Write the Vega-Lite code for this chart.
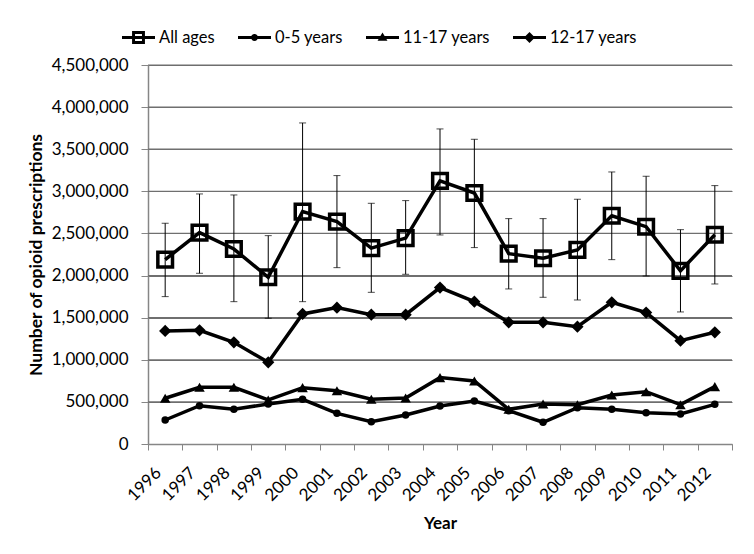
{
  "$schema": "https://vega.github.io/schema/vega-lite/v6.json",
  "width": 584,
  "height": 379,
  "autosize": "none",
  "padding": {"left": 148, "top": 65, "right": 22, "bottom": 110},
  "background": "white",
  "config": {
    "font": "Lato",
    "view": {"stroke": null},
    "axis": {"labelFont": "Lato", "titleFont": "Lato", "labelColor": "black", "titleColor": "black", "domainColor": "#868686", "tickColor": "#868686"}
  },
  "datasets": {
    "gridlines": [
      {"g": 500000}, {"g": 1000000}, {"g": 1500000}, {"g": 2000000}, {"g": 2500000},
      {"g": 3000000}, {"g": 3500000}, {"g": 4000000}, {"g": 4500000}
    ],
    "series": [
      {"year": "1996", "series": "All ages", "value": 2190000},
      {"year": "1997", "series": "All ages", "value": 2510000},
      {"year": "1998", "series": "All ages", "value": 2315000},
      {"year": "1999", "series": "All ages", "value": 1980000},
      {"year": "2000", "series": "All ages", "value": 2760000},
      {"year": "2001", "series": "All ages", "value": 2640000},
      {"year": "2002", "series": "All ages", "value": 2325000},
      {"year": "2003", "series": "All ages", "value": 2445000},
      {"year": "2004", "series": "All ages", "value": 3125000},
      {"year": "2005", "series": "All ages", "value": 2980000},
      {"year": "2006", "series": "All ages", "value": 2260000},
      {"year": "2007", "series": "All ages", "value": 2205000},
      {"year": "2008", "series": "All ages", "value": 2305000},
      {"year": "2009", "series": "All ages", "value": 2710000},
      {"year": "2010", "series": "All ages", "value": 2580000},
      {"year": "2011", "series": "All ages", "value": 2055000},
      {"year": "2012", "series": "All ages", "value": 2485000},
      {"year": "1996", "series": "0-5 years", "value": 285000},
      {"year": "1997", "series": "0-5 years", "value": 455000},
      {"year": "1998", "series": "0-5 years", "value": 412000},
      {"year": "1999", "series": "0-5 years", "value": 475000},
      {"year": "2000", "series": "0-5 years", "value": 530000},
      {"year": "2001", "series": "0-5 years", "value": 364000},
      {"year": "2002", "series": "0-5 years", "value": 265000},
      {"year": "2003", "series": "0-5 years", "value": 344000},
      {"year": "2004", "series": "0-5 years", "value": 451000},
      {"year": "2005", "series": "0-5 years", "value": 511000},
      {"year": "2006", "series": "0-5 years", "value": 396000},
      {"year": "2007", "series": "0-5 years", "value": 258000},
      {"year": "2008", "series": "0-5 years", "value": 431000},
      {"year": "2009", "series": "0-5 years", "value": 412000},
      {"year": "2010", "series": "0-5 years", "value": 372000},
      {"year": "2011", "series": "0-5 years", "value": 356000},
      {"year": "2012", "series": "0-5 years", "value": 471000},
      {"year": "1996", "series": "11-17 years", "value": 543000},
      {"year": "1997", "series": "11-17 years", "value": 673000},
      {"year": "1998", "series": "11-17 years", "value": 673000},
      {"year": "1999", "series": "11-17 years", "value": 523000},
      {"year": "2000", "series": "11-17 years", "value": 669000},
      {"year": "2001", "series": "11-17 years", "value": 633000},
      {"year": "2002", "series": "11-17 years", "value": 531000},
      {"year": "2003", "series": "11-17 years", "value": 546000},
      {"year": "2004", "series": "11-17 years", "value": 788000},
      {"year": "2005", "series": "11-17 years", "value": 748000},
      {"year": "2006", "series": "11-17 years", "value": 412000},
      {"year": "2007", "series": "11-17 years", "value": 475000},
      {"year": "2008", "series": "11-17 years", "value": 467000},
      {"year": "2009", "series": "11-17 years", "value": 582000},
      {"year": "2010", "series": "11-17 years", "value": 621000},
      {"year": "2011", "series": "11-17 years", "value": 467000},
      {"year": "2012", "series": "11-17 years", "value": 681000},
      {"year": "1996", "series": "12-17 years", "value": 1342000},
      {"year": "1997", "series": "12-17 years", "value": 1350000},
      {"year": "1998", "series": "12-17 years", "value": 1208000},
      {"year": "1999", "series": "12-17 years", "value": 970000},
      {"year": "2000", "series": "12-17 years", "value": 1544000},
      {"year": "2001", "series": "12-17 years", "value": 1619000},
      {"year": "2002", "series": "12-17 years", "value": 1536000},
      {"year": "2003", "series": "12-17 years", "value": 1536000},
      {"year": "2004", "series": "12-17 years", "value": 1857000},
      {"year": "2005", "series": "12-17 years", "value": 1690000},
      {"year": "2006", "series": "12-17 years", "value": 1445000},
      {"year": "2007", "series": "12-17 years", "value": 1445000},
      {"year": "2008", "series": "12-17 years", "value": 1393000},
      {"year": "2009", "series": "12-17 years", "value": 1683000},
      {"year": "2010", "series": "12-17 years", "value": 1560000},
      {"year": "2011", "series": "12-17 years", "value": 1227000},
      {"year": "2012", "series": "12-17 years", "value": 1326000}
    ],
    "errors": [
      {"year": "1996", "lo": 1750000, "hi": 2621000},
      {"year": "1997", "lo": 2027000, "hi": 2969000},
      {"year": "1998", "lo": 1690000, "hi": 2957000},
      {"year": "1999", "lo": 1493000, "hi": 2474000},
      {"year": "2000", "lo": 1690000, "hi": 3812000},
      {"year": "2001", "lo": 2094000, "hi": 3187000},
      {"year": "2002", "lo": 1801000, "hi": 2858000},
      {"year": "2003", "lo": 2015000, "hi": 2890000},
      {"year": "2004", "lo": 2482000, "hi": 3741000},
      {"year": "2005", "lo": 2332000, "hi": 3618000},
      {"year": "2006", "lo": 1841000, "hi": 2676000},
      {"year": "2007", "lo": 1742000, "hi": 2676000},
      {"year": "2008", "lo": 1710000, "hi": 2906000},
      {"year": "2009", "lo": 2189000, "hi": 3230000},
      {"year": "2010", "lo": 1995000, "hi": 3179000},
      {"year": "2011", "lo": 1568000, "hi": 2545000},
      {"year": "2012", "lo": 1900000, "hi": 3068000}
    ]
  },
  "layer": [
    {
      "data": {"name": "gridlines"},
      "mark": {"type": "rect", "color": "#6f6f6f", "height": 1.2, "opacity": 1},
      "encoding": {
        "y": {
          "field": "g", "type": "quantitative",
          "scale": {"domain": [0, 4500000], "nice": false},
          "axis": {
            "title": "Number of opioid prescriptions", "titleFontSize": 17.5, "titleFontWeight": "bold", "titlePadding": 6,
            "values": [0, 500000, 1000000, 1500000, 2000000, 2500000, 3000000, 3500000, 4000000, 4500000],
            "format": ",d", "labelFontSize": 17, "labelPadding": 13, "tickSize": 7, "domainWidth": 1.5,
            "grid": true, "gridColor": "#6f6f6f", "gridWidth": 1.2, "gridOpacity": 1
          }
        }
      }
    },
    {
      "data": {"name": "errors"},
      "mark": {"type": "rule", "color": "black", "strokeWidth": 1},
      "encoding": {
        "x": {
          "field": "year", "type": "nominal",
          "scale": {"paddingInner": 0, "paddingOuter": 0},
          "axis": {
            "title": "Year", "titleFontSize": 17, "titleFontWeight": "bold", "titlePadding": 12,
            "labelAngle": -45, "labelAlign": "right", "labelBaseline": "middle", "labelFontSize": 17, "labelPadding": 20, "labelOffset": -7,
            "tickBand": "extent", "tickSize": 6, "domainWidth": 1.5, "grid": false
          }
        },
        "y": {"field": "lo", "type": "quantitative"},
        "y2": {"field": "hi"}
      }
    },
    {
      "data": {"name": "errors"},
      "mark": {"type": "tick", "color": "black", "thickness": 1, "size": 7},
      "encoding": {"x": {"field": "year", "type": "nominal"}, "y": {"field": "lo", "type": "quantitative"}}
    },
    {
      "data": {"name": "errors"},
      "mark": {"type": "tick", "color": "black", "thickness": 1, "size": 7},
      "encoding": {"x": {"field": "year", "type": "nominal"}, "y": {"field": "hi", "type": "quantitative"}}
    },
    {
      "data": {"name": "series"},
      "mark": {"type": "line", "color": "black", "strokeWidth": 3.5},
      "encoding": {
        "x": {"field": "year", "type": "nominal"},
        "y": {"field": "value", "type": "quantitative"},
        "detail": {"field": "series", "type": "nominal"}
      }
    },
    {
      "data": {"name": "series"},
      "transform": [{"filter": "datum.series == 'All ages'"}],
      "mark": {"type": "point", "shape": "square", "size": 215, "filled": false, "stroke": "black", "strokeWidth": 3.5, "opacity": 1},
      "encoding": {"x": {"field": "year", "type": "nominal"}, "y": {"field": "value", "type": "quantitative"}}
    },
    {
      "data": {"name": "series"},
      "transform": [{"filter": "datum.series == '0-5 years'"}],
      "mark": {"type": "point", "shape": "circle", "size": 56, "filled": true, "color": "black", "opacity": 1},
      "encoding": {"x": {"field": "year", "type": "nominal"}, "y": {"field": "value", "type": "quantitative"}}
    },
    {
      "data": {"name": "series"},
      "transform": [{"filter": "datum.series == '11-17 years'"}],
      "mark": {"type": "point", "shape": "triangle-up", "size": 110, "filled": true, "color": "black", "opacity": 1},
      "encoding": {"x": {"field": "year", "type": "nominal"}, "y": {"field": "value", "type": "quantitative"}}
    },
    {
      "data": {"name": "series"},
      "transform": [{"filter": "datum.series == '12-17 years'"}],
      "mark": {"type": "point", "shape": "diamond", "size": 150, "filled": true, "color": "black", "opacity": 1},
      "encoding": {"x": {"field": "year", "type": "nominal"}, "y": {"field": "value", "type": "quantitative"}}
    },
    {
      "data": {"name": "series"},
      "transform": [{"filter": "datum.value < 0"}],
      "mark": {"type": "point", "filled": true, "color": "black", "opacity": 1},
      "encoding": {
        "x": {"field": "year", "type": "nominal"},
        "y": {"field": "value", "type": "quantitative"},
        "shape": {
          "field": "series", "type": "nominal",
          "scale": {
            "domain": ["All ages", "0-5 years", "11-17 years", "12-17 years"],
            "range": [
              "M-1,-0.09H1V0.09H-1ZM-0.39,-0.39H0.39V0.39H-0.39ZM-0.21,-0.21V0.21H0.21V-0.21Z",
              "M-1,-0.09H1V0.09H-1ZM0.21,0A0.21,0.21 0 1,1 -0.21,0A0.21,0.21 0 1,1 0.21,0Z",
              "M-1,-0.09H1V0.09H-1ZM-0.3,0.2L0,-0.3L0.3,0.2Z",
              "M-1,-0.09H1V0.09H-1ZM-0.33,0L0,-0.33L0.33,0L0,0.33Z"
            ]
          },
          "legend": {
            "title": null, "orient": "none", "direction": "horizontal",
            "legendX": -26, "legendY": -44,
            "symbolSize": 1089, "symbolStrokeWidth": 0, "symbolFillColor": "black", "symbolOpacity": 1,
            "labelFontSize": 16.5, "labelColor": "black", "labelFont": "Lato",
            "columnPadding": 23, "labelOffset": 4
          }
        }
      }
    }
  ]
}
